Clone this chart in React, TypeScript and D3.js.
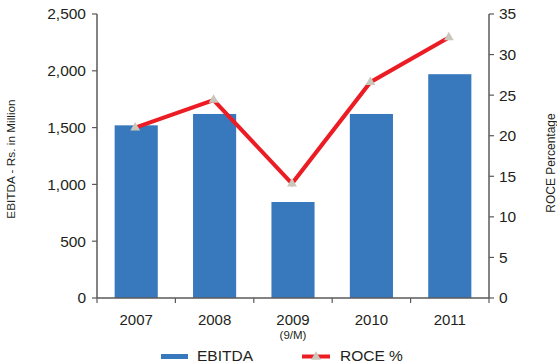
import React from "react";
import * as d3 from "d3";

const years = ["2007", "2008", "2009", "2010", "2011"];
const subLabels = ["", "", "(9/M)", "", ""];
const ebitda = [1520, 1620, 845, 1620, 1970];
const roce = [21.0, 24.4, 14.1, 26.6, 32.1];
const leftTicks = [0, 500, 1000, 1500, 2000, 2500];
const rightTicks = [0, 5, 10, 15, 20, 25, 30, 35];

const W = 557;
const H = 363;
const X0 = 97;
const X1 = 489;
const Y0 = 298;
const Y1 = 14;
const FONT = "'Liberation Sans', Arial, Helvetica, sans-serif";
const BAR = "#3878bd";
const RED = "#ec1c24";
const MARK = "#c9c6bb";
const AXIS = "#5a5a5a";
const TXT = "#231f20";

export default function App() {
  const x = d3.scaleBand<string>().domain(years).range([X0, X1]).paddingInner(0.45).paddingOuter(0.225);
  const xb = d3.scaleBand<string>().domain(years).range([X0, X1]).padding(0);
  const yL = d3.scaleLinear().domain([0, 2500]).range([Y0, Y1]);
  const yR = d3.scaleLinear().domain([0, 35]).range([Y0, Y1]);
  const fmt = d3.format(",");
  const line = d3
    .line<number>()
    .x((_, i) => (x(years[i]) as number) + x.bandwidth() / 2 - 1)
    .y((d) => yR(d));
  const tri = d3.symbol().type(d3.symbolTriangle).size(42);

  const boundaries = years.map((y) => xb(y) as number).concat([X1]);

  return (
    <svg width={W} height={H} style={{ position: "absolute", left: 0, top: 0 }} fontFamily={FONT}>
      <rect width={W} height={H} fill="#fff" />
      {/* bars */}
      {ebitda.map((v, i) => (
        <rect
          key={years[i]}
          x={x(years[i])}
          y={yL(v)}
          width={x.bandwidth()}
          height={Y0 - yL(v)}
          fill={BAR}
        />
      ))}
      {/* left axis */}
      <line x1={X0} x2={X0} y1={Y1} y2={Y0} stroke={AXIS} strokeWidth={1.5} />
      {leftTicks.map((t) => (
        <g key={t}>
          <line x1={X0 - 5} x2={X0} y1={yL(t)} y2={yL(t)} stroke={AXIS} strokeWidth={1.2} />
          <text x={86} y={yL(t)} dy="0.35em" textAnchor="end" fontSize={15.5} fill={TXT}>
            {fmt(t)}
          </text>
        </g>
      ))}
      {/* right axis */}
      <line x1={X1} x2={X1} y1={Y1} y2={Y0} stroke={AXIS} strokeWidth={1.5} />
      {rightTicks.map((t) => (
        <g key={t}>
          <line x1={X1} x2={X1 + 5} y1={yR(t)} y2={yR(t)} stroke={AXIS} strokeWidth={1.2} />
          <text x={499} y={yR(t)} dy="0.35em" textAnchor="start" fontSize={15.5} fill={TXT}>
            {t}
          </text>
        </g>
      ))}
      {/* x axis */}
      <line x1={X0} x2={X1} y1={Y0} y2={Y0} stroke={AXIS} strokeWidth={1.5} />
      {boundaries.map((b, i) => (
        <line key={i} x1={b} x2={b} y1={Y0} y2={Y0 + 5} stroke={AXIS} strokeWidth={1.2} />
      ))}
      {years.map((y, i) => (
        <g key={y}>
          <text
            x={(x(y) as number) + x.bandwidth() / 2}
            y={325}
            textAnchor="middle"
            fontSize={15}
            fill={TXT}
          >
            {y}
          </text>
          {subLabels[i] && (
            <text
              x={(x(y) as number) + x.bandwidth() / 2}
              y={339}
              textAnchor="middle"
              fontSize={11.5}
              fill={TXT}
            >
              {subLabels[i]}
            </text>
          )}
        </g>
      ))}
      {/* ROCE line */}
      <path d={line(roce) || ""} fill="none" stroke={RED} strokeWidth={4} strokeLinejoin="miter" />
      {roce.map((v, i) => (
        <path
          key={i}
          d={tri() || ""}
          transform={`translate(${(x(years[i]) as number) + x.bandwidth() / 2 - 1},${yR(v)})`}
          fill={MARK}
        />
      ))}
      {/* axis titles */}
      <text
        transform={`translate(15,159) rotate(-90)`}
        textAnchor="middle"
        fontSize={11.8}
        fill={TXT}
      >
        EBITDA - Rs. in Million
      </text>
      <text
        transform={`translate(554.5,163) rotate(-90)`}
        textAnchor="middle"
        fontSize={12}
        fill={TXT}
      >
        ROCE Percentage
      </text>
      {/* legend */}
      <rect x={161} y={354} width={27} height={5} fill={BAR} />
      <text x={197} y={361} fontSize={15.5} fill={TXT}>
        EBITDA
      </text>
      <line x1={302} x2={330} y1={356.5} y2={356.5} stroke={RED} strokeWidth={4} />
      <path d={tri() || ""} transform="translate(316,357)" fill={MARK} />
      <text x={340} y={361} fontSize={15.5} fill={TXT}>
        ROCE %
      </text>
    </svg>
  );
}
